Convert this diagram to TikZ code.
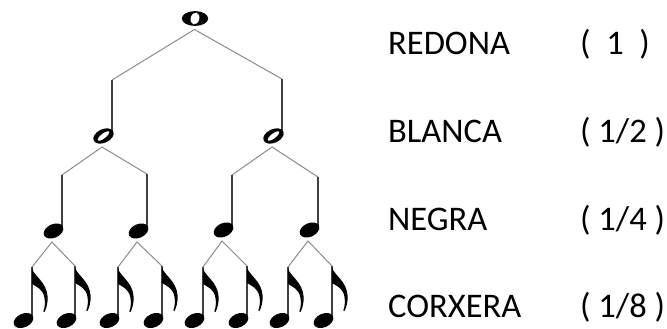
\documentclass[tikz,border=0pt]{standalone}
\usepackage{fontspec}
\setmainfont{Carlito}
\newcommand\notecoords[4]{% name, stem x, top y, head y
  \coordinate (#1-t) at (#2,#3);
  \coordinate (#1-s) at (#2,#4-2);
  \coordinate (#1-h) at (#2-8.5,#4);
  \coordinate (#1-b) at (#2-10,#4+11);
}
\newcommand\blackhead[1]{%
  \fill[shift={(#1)}, rotate=25] (0,0) ellipse [x radius=10.4pt, y radius=6.8pt];}
\newcommand\hollowhead[1]{%
  \fill[shift={(#1)}, rotate=25] (0,0) ellipse [x radius=10.8pt, y radius=6.8pt];
  \fill[white, shift={(#1)}, rotate=38] (0,0) ellipse [x radius=7pt, y radius=2.4pt];}
\newcommand\noteflag[1]{%
  \fill[shift={(#1)}] (0,1.5) .. controls (2,9) and (14.5,15) .. (15.5,29)
    .. controls (16,36) and (14.5,41) .. (12.5,45) -- (11.3,44.5)
    .. controls (13,40) and (13.3,35) .. (12.3,30)
    .. controls (10.8,22) and (4,19.5) .. (0,17) -- cycle;}
\tikzset{
  conn/.style={draw=black!45, line width=1pt},
  stemline/.style={draw=black!75, line width=1.4pt},
  lbl/.style={font=\fontsize{34.5}{40}\selectfont, anchor=base west, inner sep=0pt},
}
\begin{document}
\begin{tikzpicture}[x=1pt, y=-1pt]
\useasboundingbox[fill=white] (0,0) rectangle (667,329);

% whole note
\coordinate (W-h) at (195,18.5);
\coordinate (W-b) at (194.5,29.5);
\fill (W-h) ellipse [x radius=13.2pt, y radius=7.4pt];
\fill[white, shift={(W-h)}, rotate=-15] (0,0) ellipse [x radius=4.3pt, y radius=6pt];

% half notes
\notecoords{H1}{112}{80}{136}
\notecoords{H2}{282}{79}{136}
% quarter notes
\notecoords{Q1}{62}{175}{231}
\notecoords{Q2}{147}{174}{231}
\notecoords{Q3}{232}{175}{230}
\notecoords{Q4}{318}{177}{230}
% eighth notes
\notecoords{E1}{32}{267}{320.5}
\notecoords{E2}{75}{266}{320.5}
\notecoords{E3}{118}{267}{320.5}
\notecoords{E4}{162}{266}{320.5}
\notecoords{E5}{203}{267}{320.5}
\notecoords{E6}{247}{266}{320.5}
\notecoords{E7}{288}{267}{320.5}
\notecoords{E8}{332}{266}{320.5}

% connectors
\draw[conn] (H1-t) -- (W-b) -- (H2-t);
\draw[conn] (Q1-t) -- (H1-b) -- (Q2-t);
\draw[conn] (Q3-t) -- (H2-b) -- (Q4-t);
\draw[conn] (E1-t) -- (Q1-b) -- (E2-t);
\draw[conn] (E3-t) -- (Q2-b) -- (E4-t);
\draw[conn] (E5-t) -- (Q3-b) -- (E6-t);
\draw[conn] (E7-t) -- (Q4-b) -- (E8-t);

% stems
\foreach \n in {H1,H2,Q1,Q2,Q3,Q4,E1,E2,E3,E4,E5,E6,E7,E8}{
  \draw[stemline] (\n-t) -- (\n-s);
}

% heads
\hollowhead{H1-h}
\hollowhead{H2-h}
\foreach \n in {Q1,Q2,Q3,Q4,E1,E2,E3,E4,E5,E6,E7,E8}{
  \blackhead{\n-h}
}
\foreach \n in {E1,E2,E3,E4,E5,E6,E7,E8}{
  \noteflag{\n-t}
}

% labels
\node[lbl] (n1) at (388,55) {REDONA};
\node[lbl] (n2) at (388,142) {BLANCA};
\node[lbl] (n3) at (388,230) {NEGRA};
\node[lbl] (n4) at (388,317) {CORXERA};
\node[lbl] (f1) at (580,55) {(\ \ 1\ \ )};
\node[lbl] (f2) at (580,142) {( 1/2 )};
\node[lbl] (f3) at (580,230) {( 1/4 )};
\node[lbl] (f4) at (580,317) {( 1/8 )};
\end{tikzpicture}
\end{document}
